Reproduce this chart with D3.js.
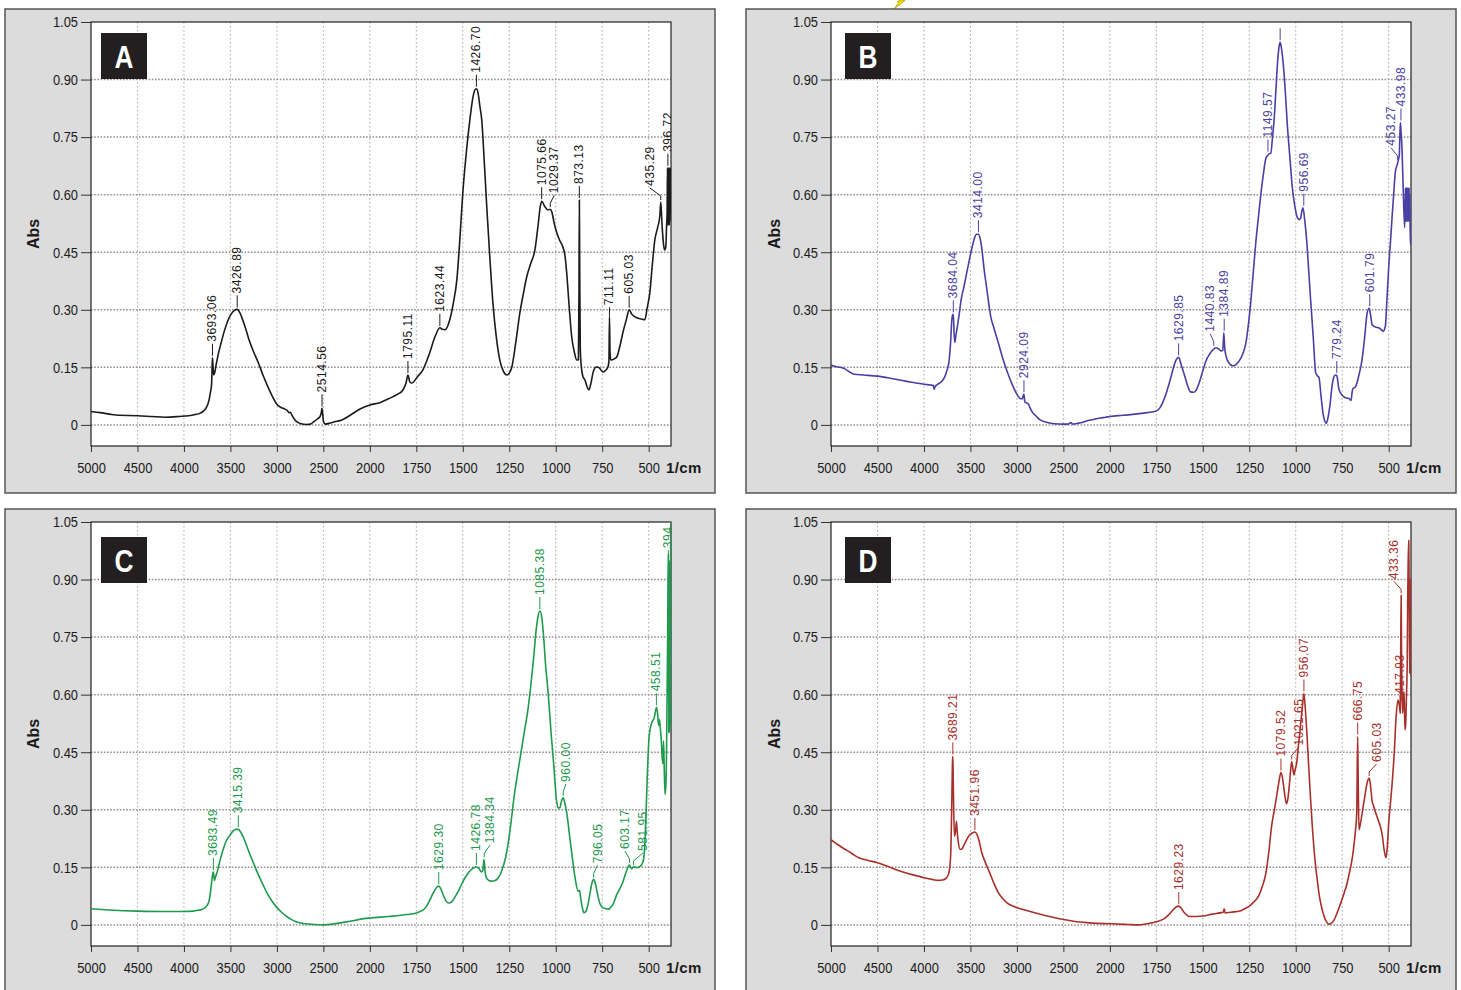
<!DOCTYPE html>
<html>
<head>
<meta charset="utf-8">
<script src="https://cdn.jsdelivr.net/npm/d3@7"></script>
<style>
  body { margin: 0; background: #fff; }
  svg text { font-family: "Liberation Sans", Arial, sans-serif; }
</style>
</head>
<body>
<svg id="chart" width="1461" height="990"></svg>
<script>
// axis ticks
const wnTicks = [5000, 4500, 4000, 3500, 3000, 2500, 2000, 1750, 1500, 1250, 1000, 750, 500];
const absTicks = [0, 0.15, 0.30, 0.45, 0.60, 0.75, 0.90, 1.05];
const absTickLabels = ["0", "0.15", "0.30", "0.45", "0.60", "0.75", "0.90", "1.05"];
const panelNames = ["A", "B", "C", "D"];

// spectra: [wavenumber 1/cm, Abs]
const spectrumA = [
  [5000,0.035],[4900,0.032],[4800,0.028],[4700,0.025],[4500,0.024],[4350,0.022],[4200,0.02],[4050,0.022],
  [3950,0.024],[3880,0.027],[3830,0.03],[3790,0.036],[3760,0.045],[3735,0.06],[3715,0.085],[3703,0.105],
  [3697,0.15],[3693,0.175],[3688,0.155],[3680,0.13],[3670,0.135],[3655,0.155],[3630,0.185],[3600,0.214],
  [3565,0.245],[3530,0.27],[3495,0.288],[3460,0.298],[3427,0.301],[3400,0.293],[3370,0.275],[3335,0.25],
  [3300,0.222],[3250,0.19],[3200,0.162],[3150,0.13],[3100,0.101],[3050,0.075],[3000,0.054],[2960,0.046],
  [2920,0.042],[2890,0.038],[2870,0.032],[2855,0.033],[2840,0.026],[2810,0.014],[2780,0.007],[2740,0.003],
  [2680,0.001],[2640,0.002],[2600,0.009],[2560,0.016],[2535,0.022],[2520,0.035],[2515,0.043],[2508,0.03],
  [2498,0.008],[2480,0.002],[2440,0.004],[2380,0.008],[2300,0.013],[2200,0.027],[2100,0.042],[2000,0.052],
  [1946,0.058],[1900,0.068],[1850,0.08],[1822,0.091],[1805,0.11],[1795,0.13],[1785,0.112],[1774,0.109],
  [1745,0.125],[1715,0.143],[1680,0.185],[1650,0.229],[1623,0.253],[1610,0.249],[1596,0.248],[1570,0.274],
  [1550,0.32],[1532,0.378],[1515,0.49],[1500,0.604],[1480,0.715],[1462,0.795],[1445,0.855],[1435,0.873],
  [1427,0.876],[1419,0.868],[1408,0.83],[1398,0.795],[1385,0.69],[1371,0.568],[1355,0.44],[1338,0.318],
  [1320,0.23],[1301,0.169],[1282,0.14],[1263,0.13],[1250,0.135],[1236,0.151],[1215,0.215],[1193,0.292],
  [1175,0.34],[1156,0.386],[1135,0.42],[1112,0.456],[1095,0.52],[1083,0.57],[1075,0.583],[1060,0.57],
  [1042,0.56],[1030,0.562],[1021,0.555],[1008,0.525],[994,0.5],[978,0.48],[962,0.464],[950,0.44],
  [941,0.396],[928,0.31],[914,0.229],[900,0.19],[887,0.169],[878,0.17],[875,0.35],[873,0.586],[871,0.4],
  [868,0.2],[862,0.15],[853,0.125],[843,0.117],[832,0.1],[822,0.091],[810,0.11],[800,0.135],[785,0.15],
  [773,0.151],[760,0.145],[746,0.138],[730,0.143],[719,0.151],[714,0.165],[711,0.279],[708,0.19],
  [704,0.17],[700,0.169],[686,0.172],[672,0.177],[655,0.205],[639,0.24],[620,0.275],[605,0.3],[590,0.288],
  [564,0.279],[540,0.276],[521,0.274],[508,0.305],[494,0.344],[480,0.42],[467,0.482],[451,0.516],
  [440,0.545],[435,0.581],[428,0.52],[420,0.47],[414,0.456],[408,0.464],[404,0.516],[401,0.55],[399,0.67],
  [397,0.52],[395,0.67],[393,0.52],[391,0.67],[389,0.52],[387,0.67],[385,0.53],[383,0.67],[381,0.55],[380,0.66]
];

const spectrumB = [
  [5000,0.156],[4950,0.152],[4900,0.15],[4850,0.146],[4800,0.138],[4750,0.132],[4650,0.13],[4500,0.127],
  [4350,0.121],[4200,0.114],[4100,0.11],[4000,0.106],[3930,0.104],[3900,0.103],[3890,0.093],[3880,0.1],
  [3850,0.106],[3810,0.113],[3780,0.123],[3755,0.14],[3730,0.166],[3712,0.22],[3700,0.274],[3690,0.287],
  [3684,0.288],[3676,0.24],[3668,0.215],[3655,0.235],[3640,0.257],[3620,0.29],[3600,0.326],[3570,0.36],
  [3540,0.396],[3510,0.432],[3480,0.465],[3455,0.488],[3435,0.497],[3414,0.497],[3395,0.485],[3375,0.455],
  [3355,0.41],[3330,0.365],[3305,0.32],[3280,0.28],[3250,0.255],[3200,0.214],[3150,0.172],[3100,0.136],
  [3050,0.105],[3000,0.08],[2960,0.068],[2940,0.068],[2930,0.078],[2924,0.08],[2915,0.06],[2900,0.058],
  [2875,0.054],[2860,0.045],[2830,0.032],[2790,0.022],[2750,0.013],[2700,0.008],[2600,0.003],[2500,0.002],
  [2450,0.002],[2420,0.006],[2400,0.002],[2350,0.004],[2300,0.006],[2250,0.01],[2200,0.013],[2100,0.018],
  [2045,0.02],[2000,0.022],[1930,0.025],[1866,0.028],[1800,0.032],[1750,0.036],[1730,0.045],[1714,0.06],
  [1695,0.085],[1679,0.111],[1660,0.145],[1645,0.168],[1630,0.176],[1615,0.155],[1598,0.129],[1580,0.1],
  [1566,0.086],[1550,0.085],[1536,0.09],[1518,0.112],[1500,0.141],[1482,0.168],[1464,0.184],[1445,0.196],
  [1429,0.201],[1415,0.198],[1402,0.193],[1392,0.195],[1387,0.24],[1382,0.2],[1375,0.18],[1360,0.162],
  [1339,0.154],[1320,0.158],[1304,0.167],[1285,0.185],[1268,0.214],[1255,0.26],[1241,0.326],[1228,0.4],
  [1214,0.48],[1200,0.545],[1188,0.6],[1175,0.65],[1161,0.694],[1150,0.703],[1140,0.707],[1134,0.708],
  [1125,0.75],[1116,0.797],[1107,0.87],[1098,0.943],[1090,0.985],[1084,0.997],[1078,0.985],[1066,0.934],
  [1055,0.86],[1045,0.78],[1032,0.7],[1018,0.617],[1005,0.57],[991,0.54],[980,0.535],[973,0.54],[966,0.56],
  [961,0.566],[952,0.535],[941,0.48],[930,0.4],[920,0.326],[906,0.23],[893,0.137],[884,0.128],[875,0.124],
  [864,0.075],[852,0.026],[844,0.01],[836,0.004],[826,0.02],[816,0.051],[805,0.1],[795,0.125],[785,0.13],
  [779,0.128],[768,0.094],[755,0.08],[741,0.073],[728,0.07],[714,0.069],[708,0.066],[702,0.064],[697,0.085],
  [693,0.094],[679,0.099],[660,0.13],[643,0.171],[630,0.225],[616,0.291],[605,0.304],[597,0.285],[589,0.261],
  [572,0.255],[554,0.253],[540,0.248],[530,0.244],[518,0.257],[510,0.32],[500,0.411],[490,0.48],[482,0.54],
  [472,0.61],[464,0.66],[455,0.677],[448,0.69],[443,0.703],[440,0.75],[437,0.788],[433,0.76],[429,0.728],
  [424,0.65],[420,0.583],[414,0.514],[410,0.617],[408,0.531],[406,0.617],[404,0.531],[402,0.617],[400,0.531],
  [398,0.617],[396,0.531],[394,0.617],[392,0.531],[390,0.617],[388,0.531],[386,0.6],[384,0.471],[380,0.471]
];

const spectrumC = [
  [5000,0.042],[4750,0.038],[4500,0.036],[4250,0.035],[4000,0.035],[3900,0.036],[3850,0.038],[3800,0.041],
  [3760,0.048],[3730,0.062],[3712,0.09],[3700,0.115],[3688,0.136],[3683,0.138],[3672,0.116],[3660,0.125],
  [3640,0.14],[3610,0.17],[3580,0.195],[3550,0.216],[3510,0.232],[3470,0.245],[3440,0.249],[3415,0.249],
  [3390,0.242],[3350,0.222],[3300,0.19],[3250,0.16],[3200,0.131],[3150,0.105],[3100,0.08],[3050,0.061],
  [3000,0.045],[2950,0.033],[2900,0.023],[2850,0.015],[2800,0.009],[2700,0.003],[2600,0.001],[2500,0],
  [2400,0.002],[2300,0.006],[2200,0.01],[2100,0.015],[2000,0.018],[1900,0.022],[1800,0.027],[1750,0.031],
  [1720,0.037],[1700,0.045],[1680,0.062],[1660,0.082],[1640,0.098],[1630,0.101],[1620,0.096],[1605,0.078],
  [1590,0.062],[1575,0.057],[1560,0.06],[1545,0.07],[1520,0.092],[1495,0.117],[1470,0.136],[1450,0.146],
  [1430,0.151],[1415,0.148],[1400,0.138],[1392,0.142],[1386,0.171],[1380,0.138],[1370,0.12],[1350,0.114],
  [1330,0.115],[1310,0.122],[1290,0.142],[1270,0.175],[1255,0.215],[1240,0.27],[1225,0.33],[1210,0.38],
  [1190,0.44],[1170,0.5],[1150,0.56],[1135,0.62],[1120,0.69],[1105,0.77],[1095,0.805],[1085,0.818],
  [1075,0.8],[1065,0.75],[1055,0.68],[1040,0.6],[1025,0.5],[1010,0.413],[997,0.33],[988,0.305],[978,0.305],
  [968,0.325],[960,0.331],[950,0.315],[940,0.29],[925,0.23],[910,0.172],[895,0.12],[880,0.088],[872,0.09],
  [866,0.07],[857,0.045],[848,0.032],[838,0.035],[828,0.05],[815,0.084],[805,0.11],[796,0.119],[787,0.108],
  [775,0.08],[762,0.055],[750,0.046],[735,0.043],[715,0.041],[705,0.046],[690,0.055],[675,0.075],[660,0.09],
  [640,0.11],[620,0.14],[603,0.156],[592,0.146],[582,0.151],[565,0.149],[545,0.153],[530,0.165],[522,0.2],
  [515,0.28],[508,0.38],[498,0.49],[485,0.525],[470,0.54],[458,0.567],[452,0.55],[447,0.52],[442,0.535],
  [437,0.51],[432,0.48],[428,0.44],[424,0.42],[420,0.48],[416,0.4],[412,0.34],[408,0.36],[404,0.45],
  [401,0.6],[398,0.75],[396,0.9],[394,0.967],[392,0.5],[390,0.95],[388,0.5],[386,0.95],[384,0.52],
  [382,1.06],[380,1.06]
];

const spectrumD = [
  [5000,0.222],[4950,0.213],[4900,0.205],[4850,0.197],[4800,0.19],[4750,0.182],[4700,0.175],[4600,0.168],
  [4500,0.162],[4375,0.151],[4250,0.14],[4125,0.131],[4000,0.123],[3900,0.118],[3850,0.116],[3800,0.117],
  [3760,0.122],[3735,0.133],[3720,0.155],[3710,0.197],[3700,0.326],[3692,0.43],[3689,0.439],[3685,0.38],
  [3680,0.3],[3672,0.231],[3660,0.245],[3650,0.27],[3643,0.245],[3630,0.215],[3612,0.197],[3595,0.197],
  [3580,0.203],[3555,0.215],[3530,0.227],[3500,0.236],[3470,0.241],[3452,0.242],[3430,0.236],[3410,0.222],
  [3380,0.19],[3340,0.163],[3300,0.14],[3250,0.11],[3200,0.084],[3150,0.068],[3100,0.056],[3050,0.05],
  [3000,0.045],[2900,0.038],[2800,0.031],[2750,0.028],[2650,0.022],[2500,0.014],[2375,0.009],[2250,0.006],
  [2125,0.004],[2000,0.003],[1900,0.001],[1850,0],[1800,0.003],[1750,0.008],[1720,0.013],[1700,0.019],
  [1680,0.028],[1660,0.039],[1645,0.046],[1630,0.049],[1615,0.043],[1600,0.032],[1585,0.025],[1570,0.022],
  [1535,0.022],[1500,0.023],[1450,0.028],[1400,0.032],[1390,0.033],[1385,0.042],[1380,0.031],[1350,0.033],
  [1300,0.036],[1275,0.042],[1250,0.049],[1225,0.06],[1200,0.075],[1180,0.1],[1160,0.136],[1145,0.19],
  [1130,0.257],[1115,0.3],[1100,0.344],[1088,0.38],[1080,0.397],[1072,0.385],[1065,0.361],[1058,0.335],
  [1050,0.316],[1042,0.33],[1035,0.361],[1028,0.4],[1022,0.426],[1016,0.41],[1010,0.391],[1003,0.405],
  [995,0.422],[985,0.47],[975,0.517],[965,0.565],[956,0.603],[948,0.56],[940,0.5],[930,0.41],[920,0.326],
  [910,0.25],[900,0.188],[885,0.12],[870,0.067],[855,0.035],[840,0.013],[830,0.005],[820,0.002],[810,0.004],
  [800,0.008],[785,0.022],[770,0.041],[757,0.058],[745,0.075],[735,0.09],[730,0.097],[715,0.128],[700,0.162],
  [690,0.195],[680,0.24],[672,0.29],[667,0.491],[664,0.38],[660,0.248],[650,0.27],[640,0.3],[630,0.33],
  [620,0.361],[612,0.377],[605,0.383],[598,0.365],[590,0.326],[580,0.308],[570,0.292],[558,0.275],
  [545,0.257],[535,0.235],[525,0.197],[515,0.175],[508,0.2],[500,0.266],[490,0.32],[480,0.378],[470,0.45],
  [460,0.543],[450,0.586],[442,0.57],[438,0.552],[435,0.742],[433,0.859],[431,0.716],[428,0.6],[425,0.552],
  [420,0.6],[418,0.608],[415,0.56],[412,0.508],[408,0.53],[405,0.586],[400,0.7],[398,0.837],[395,0.95],
  [392,1.002],[389,0.8],[387,0.655],[385,0.9],[383,0.777],[380,0.65]
];

// peak annotations: [wavenumber, Abs where the leader starts, label, label wavenumber if shifted]
const peaksA = [
  [3693.06,0.175,"3693.06"],[3426.89,0.301,"3426.89"],[2514.56,0.043,"2514.56"],[1795.11,0.13,"1795.11"],
  [1623.44,0.253,"1623.44"],[1426.70,0.876,"1426.70"],[1075.66,0.583,"1075.66"],[1029.37,0.562,"1029.37",1008],
  [873.13,0.586,"873.13"],[711.11,0.27,"711.11"],[605.03,0.3,"605.03"],[435.29,0.581,"435.29",494],
  [396.72,0.67,"396.72"]
];
const peaksB = [
  [3684.04,0.288,"3684.04"],[3414.00,0.497,"3414.00"],[2924.09,0.08,"2924.09"],[1629.85,0.176,"1629.85"],
  [1440.83,0.201,"1440.83",1460],[1384.89,0.24,"1384.89"],[1149.57,0.707,"1149.57"],[1084,0.997,""],
  [956.69,0.566,"956.69"],[779.24,0.13,"779.24"],[601.79,0.304,"601.79"],[453.27,0.686,"453.27",488],
  [433.98,0.788,"433.98"]
];
const peaksC = [
  [3683.49,0.138,"3683.49"],[3415.39,0.249,"3415.39"],[1629.30,0.101,"1629.30"],[1426.78,0.151,"1426.78"],
  [1384.34,0.171,"1384.34",1354],[1085.38,0.818,"1085.38"],[960.00,0.331,"960.00",945],
  [796.05,0.119,"796.05",775],[603.17,0.156,"603.17",628],[581.95,0.151,"581.95",531],
  [458.51,0.567,"458.51"],[394,0.94,"394"]
];
const peaksD = [
  [3689.21,0.439,"3689.21"],[3451.96,0.242,"3451.96"],[1629.23,0.049,"1629.23"],[1079.52,0.397,"1079.52"],
  [1021.65,0.426,"1021.65",985],[956.07,0.603,"956.07"],[666.75,0.491,"666.75"],[605.03,0.383,"605.03",565],
  [433.36,0.859,"433.36",472],[417.93,0.56,"417.93",440]
];

const spectra = [spectrumA, spectrumB, spectrumC, spectrumD];
const peaks = [peaksA, peaksB, peaksC, peaksD];
const colors = ["#1b1b1b", "#4a3fa4", "#1e9a4c", "#a8302a"];

// squeeze text horizontally to look like a condensed face
function squeeze(sel, f) {
  sel.each(function () {
    const w = this.getComputedTextLength();
    d3.select(this).attr("textLength", w * f).attr("lengthAdjust", "spacingAndGlyphs");
  });
}

const svg = d3.select("#chart");
svg.append("rect").attr("width", 1461).attr("height", 990).attr("fill", "#fff");

// small yellow mark at the top edge
svg.append("path")
  .attr("d", "M894,9 L899,2 L897,1.5 L906,-1 L903,0 L905,0.5 Z")
  .attr("fill", "#f5e400").attr("stroke", "#b8a000").attr("stroke-width", 0.8);

const origins = [[5, 9], [746, 9], [5, 509], [746, 509]];
const plotLeft = [86, 85, 86, 85];
const boxW = 710, boxH = 484, plotTop = 13, plotW = 580, plotH = 424;

const step = plotW / (6 + (2000 - 380) / 250);
const x = d3.scaleLinear().domain([5000, 2000, 380]).range([0, 6 * step, plotW]);
const y = d3.scaleLinear().domain([-0.055, 1.05]).range([plotH, 0]);

const line = d3.line()
  .x(d => x(d[0]))
  .y(d => y(d[1]))
  .curve(d3.curveMonotoneX);

panelNames.forEach(function (name, i) {
  const g = svg.append("g").attr("transform", `translate(${origins[i][0]},${origins[i][1]})`);
  g.append("rect")
    .attr("width", boxW).attr("height", boxH)
    .attr("fill", "#dcdcdc").attr("stroke", "#555").attr("stroke-width", 1.5);

  const p = g.append("g").attr("transform", `translate(${plotLeft[i]},${plotTop})`);
  p.append("rect").attr("width", plotW).attr("height", plotH).attr("fill", "#fff");

  p.append("clipPath").attr("id", "clip" + name)
    .append("rect").attr("width", plotW).attr("height", plotH);

  // grid
  p.selectAll(".vg").data(wnTicks.slice(1)).enter().append("line")
    .attr("x1", d => x(d)).attr("x2", d => x(d))
    .attr("y1", 0).attr("y2", plotH)
    .attr("stroke", "#aca2a2").attr("stroke-width", 1).attr("stroke-dasharray", "1.5,2.5");
  p.selectAll(".hg").data(absTicks.slice(0, -1)).enter().append("line")
    .attr("x1", 0).attr("x2", plotW)
    .attr("y1", d => y(d)).attr("y2", d => y(d))
    .attr("stroke", "#9a8c8c").attr("stroke-width", 1.5).attr("stroke-dasharray", "1.6,1.6");

  // axes
  const yAxis = d3.axisLeft(y).tickValues(absTicks)
    .tickFormat((d, k) => absTickLabels[k]).tickSize(10).tickSizeOuter(0).tickPadding(3);
  const ya = p.append("g").call(yAxis);
  const xAxis = d3.axisBottom(x).tickValues(wnTicks)
    .tickFormat(d3.format("d")).tickSize(6).tickSizeOuter(0).tickPadding(10);
  const xa = p.append("g").attr("transform", `translate(0,${plotH})`).call(xAxis);
  [ya, xa].forEach(a => {
    a.select(".domain").remove();
    a.selectAll(".tick line").attr("stroke", "#333");
    a.selectAll("text").attr("font-size", 15).attr("fill", "#1a1a1a");
    squeeze(a.selectAll("text"), 0.86);
  });

  p.append("rect").attr("width", plotW).attr("height", plotH)
    .attr("fill", "none").attr("stroke", "#222").attr("stroke-width", 1.2);

  p.append("text")
    .attr("x", plotW - 5).attr("y", plotH + 27)
    .attr("font-size", 15).attr("font-weight", "bold").attr("fill", "#1a1a1a")
    .attr("letter-spacing", 0.4)
    .text("1/cm");

  g.append("text")
    .attr("transform", `translate(28,${plotTop + plotH / 2}) rotate(-90)`)
    .attr("text-anchor", "middle").attr("dominant-baseline", "central")
    .attr("font-size", 16).attr("font-weight", "bold").attr("fill", "#1a1a1a")
    .text("Abs");

  // spectrum
  const inner = p.append("g").attr("clip-path", `url(#clip${name})`);
  inner.append("path").datum(spectra[i])
    .attr("d", line)
    .attr("fill", "none").attr("stroke", colors[i]).attr("stroke-width", 1.6)
    .attr("stroke-linejoin", "round");

  // peak labels
  peaks[i].forEach(function (pk) {
    const xp = x(pk[0]), yp = y(pk[1]);
    const xl = x(pk[3] !== undefined ? pk[3] : pk[0]);
    inner.append("path")
      .attr("d", `M${xp},${yp - 2}L${xp},${yp - 6}L${xl},${yp - 14}`)
      .attr("fill", "none").attr("stroke", colors[i]).attr("stroke-width", 1);
    if (pk[2]) {
      inner.append("text")
        .attr("transform", `translate(${xl},${yp - 16}) rotate(-90)`)
        .attr("dominant-baseline", "central")
        .attr("font-size", 12).attr("letter-spacing", 0.5)
        .attr("fill", colors[i])
        .text(pk[2]);
    }
  });

  // panel letter
  const bx = i % 2 === 0 ? 10 : 14, by = i < 2 ? 11 : 15;
  p.append("rect").attr("x", bx).attr("y", by).attr("width", 46).attr("height", 46).attr("fill", "#231f20");
  const lt = p.append("text")
    .attr("x", bx + 23).attr("y", by + 24)
    .attr("text-anchor", "middle").attr("dominant-baseline", "central")
    .attr("font-size", 32).attr("font-weight", "bold").attr("fill", "#fff")
    .text(name);
  squeeze(lt, 0.82);
});
</script>
</body>
</html>
